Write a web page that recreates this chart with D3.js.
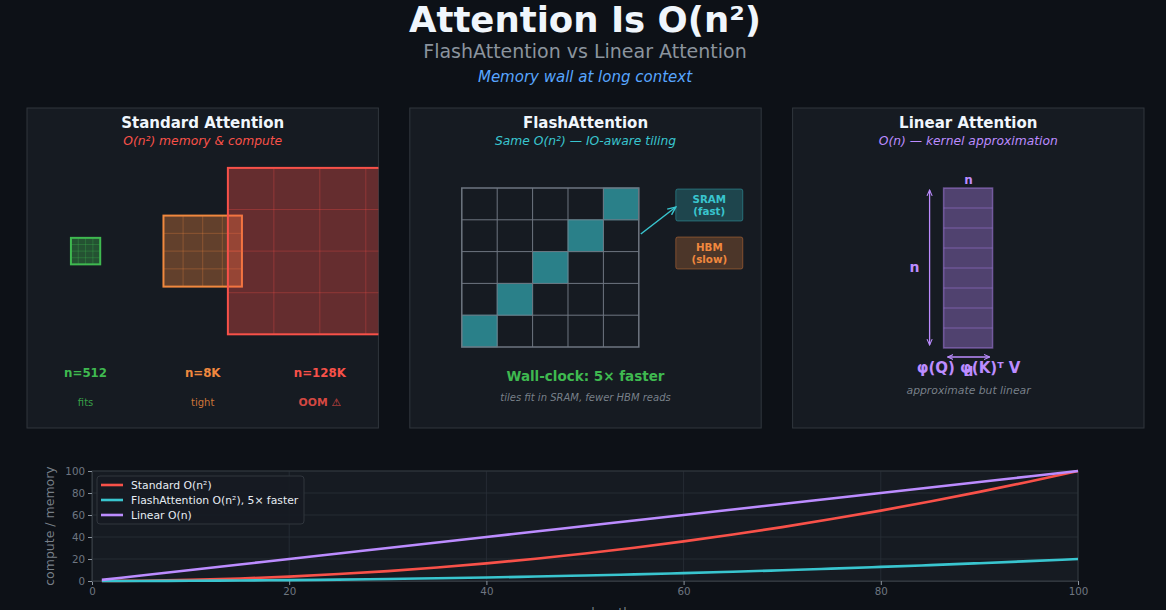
<!DOCTYPE html>
<html>
<head>
<meta charset="utf-8">
<script src="https://cdn.jsdelivr.net/npm/d3@7"></script>
<style>
  html, body { margin: 0; padding: 0; background: #0d1117; }
  svg text { font-family: "DejaVu Sans", sans-serif; }
</style>
</head>
<body>
<div id="chart"></div>
<script>
// ---- data ----
var panelTitles = ["Standard Attention", "FlashAttention", "Linear Attention"];
var panelSubtitles = ["O(n\u00b2) memory & compute", "Same O(n\u00b2) \u2014 IO-aware tiling", "O(n) \u2014 kernel approximation"];

var seqLabels = ["n=512", "n=8K", "n=128K"];
var seqNotes = ["fits", "tight", "OOM \u26a0"];
var seqSizes = [0.25, 0.67, 1.57];     // matrix side, panel units
var seqCells = [4, 4, 4];

var tileCount = 5;
var tileDiag = [0, 1, 2, 3, 4];
var memBoxes = [["SRAM", "(fast)"], ["HBM", "(slow)"]];

var linearRows = 8;

var seqLen = [1, 5, 10, 15, 20, 25, 30, 35, 40, 45, 50, 55, 60, 65, 70, 75, 80, 85, 90, 95, 100];
var standardCost = [0.01, 0.25, 1, 2.3, 4, 6.3, 9, 12.3, 16, 20.3, 25, 30.3, 36, 42.3, 49, 56.3, 64, 72.3, 81, 90.3, 100];
var flashCost = [0, 0.05, 0.2, 0.45, 0.8, 1.25, 1.8, 2.45, 3.2, 4.05, 5, 6.05, 7.2, 8.45, 9.8, 11.25, 12.8, 14.45, 16.2, 18.05, 20];
var linearCost = [1, 5, 10, 15, 20, 25, 30, 35, 40, 45, 50, 55, 60, 65, 70, 75, 80, 85, 90, 95, 100];
var seriesNames = ["Standard O(n\u00b2)", "FlashAttention O(n\u00b2), 5\u00d7 faster", "Linear O(n)"];
var xTicks = [0, 20, 40, 60, 80, 100];
var yTicks = [0, 20, 40, 60, 80, 100];

// ---- colours ----
var bg = "#0d1117", panelBg = "#161b22", border = "#30363d", muted = "#8b949e";
var green = "#3fb950", orange = "#f0883e", red = "#f85149", teal = "#39c5cf", purple = "#bc8cff", blue = "#58a6ff";
var seqColors = [green, orange, red];
var seriesColors = [red, teal, purple];

var width = 1166, height = 610;
var svg = d3.select("#chart").append("svg")
    .attr("width", width)
    .attr("height", height)
    .style("background", bg);

var defs = svg.append("defs");

// title block
svg.append("text").attr("x", 585).attr("y", 32).attr("text-anchor", "middle")
    .attr("fill", "#f0f6fc").style("font-size", "35.5px").style("font-weight", "bold")
    .text("Attention Is O(n\u00b2)");
svg.append("text").attr("x", 585).attr("y", 58).attr("text-anchor", "middle")
    .attr("fill", muted).style("font-size", "19px")
    .text("FlashAttention vs Linear Attention");
svg.append("text").attr("x", 585).attr("y", 82).attr("text-anchor", "middle")
    .attr("fill", blue).style("font-size", "15px").style("font-style", "italic")
    .text("Memory wall at long context");

// panels
var panelX = d3.scaleBand().domain([0, 1, 2]).range([27, 1144]).paddingInner(0.082);
var panelTop = 108, panelH = 320;
var subColors = [red, teal, purple];

var panels = svg.selectAll("g.panel").data(panelTitles).enter().append("g")
    .attr("class", "panel")
    .attr("transform", function(d, i) { return "translate(" + panelX(i) + "," + panelTop + ")"; });

panels.append("rect")
    .attr("width", panelX.bandwidth()).attr("height", panelH)
    .attr("fill", panelBg).attr("stroke", border).attr("stroke-width", 1);
panels.append("text")
    .attr("x", panelX.bandwidth() / 2).attr("y", 20).attr("text-anchor", "middle")
    .attr("fill", "#f0f6fc").style("font-size", "15px").style("font-weight", "bold")
    .text(function(d) { return d; });
panels.append("text")
    .attr("x", panelX.bandwidth() / 2).attr("y", 37).attr("text-anchor", "middle")
    .attr("fill", function(d, i) { return subColors[i]; })
    .style("font-size", "12.3px").style("font-style", "italic")
    .text(function(d, i) { return panelSubtitles[i]; });

// ---- panel 1: attention matrices ----
var p1 = d3.select(panels.nodes()[0]);
defs.append("clipPath").attr("id", "clip1").append("rect")
    .attr("width", panelX.bandwidth()).attr("height", panelH);
var p1x = d3.scaleLinear().domain([0, 3]).range([0, panelX.bandwidth()]);
var p1y = d3.scaleLinear().domain([0, 3]).range([0, 318]);   // y units shorter than x units
var mats = p1.append("g").attr("clip-path", "url(#clip1)");
var cy = 1.35;

seqSizes.forEach(function(s, i) {
    var cx = i + 0.5;
    var x0 = p1x(cx - s / 2), x1 = p1x(cx + s / 2);
    var y0 = p1y(cy - s / 2), y1 = p1y(cy + s / 2);
    var g = mats.append("g");
    g.append("rect").attr("x", x0).attr("y", y0).attr("width", x1 - x0).attr("height", y1 - y0)
        .attr("fill", seqColors[i]).attr("fill-opacity", 0.35)
        .attr("stroke", seqColors[i]).attr("stroke-width", 2);
    var n = seqCells[i];
    d3.range(1, n).forEach(function(k) {
        g.append("line").attr("x1", x0 + (x1 - x0) * k / n).attr("x2", x0 + (x1 - x0) * k / n)
            .attr("y1", y0).attr("y2", y1).attr("stroke", seqColors[i]).attr("stroke-opacity", 0.3);
        g.append("line").attr("y1", y0 + (y1 - y0) * k / n).attr("y2", y0 + (y1 - y0) * k / n)
            .attr("x1", x0).attr("x2", x1).attr("stroke", seqColors[i]).attr("stroke-opacity", 0.3);
    });
});
p1.selectAll("text.seq").data(seqLabels).enter().append("text")
    .attr("x", function(d, i) { return p1x(i + 0.5); }).attr("y", 269)
    .attr("text-anchor", "middle").attr("fill", function(d, i) { return seqColors[i]; })
    .style("font-size", "11.8px").style("font-weight", "bold")
    .text(function(d) { return d; });
p1.selectAll("text.note").data(seqNotes).enter().append("text")
    .attr("x", function(d, i) { return p1x(i + 0.5); }).attr("y", 298)
    .attr("text-anchor", "middle").attr("fill", function(d, i) { return seqColors[i]; })
    .attr("fill-opacity", 0.85)
    .style("font-size", function(d, i) { return i == 2 ? "10.8px" : "10px"; })
    .style("font-weight", function(d, i) { return i == 2 ? "bold" : "normal"; })
    .text(function(d) { return d; });

// ---- panel 2: tiling ----
var p2 = d3.select(panels.nodes()[1]);
var tx = d3.scaleLinear().domain([0, tileCount]).range([52, 229]);
var ty = d3.scaleLinear().domain([0, tileCount]).range([239, 80]);
p2.selectAll("rect.tile").data(tileDiag).enter().append("rect")
    .attr("x", function(d) { return tx(d); }).attr("y", function(d) { return ty(d + 1); })
    .attr("width", tx(1) - tx(0)).attr("height", ty(0) - ty(1))
    .attr("fill", teal).attr("fill-opacity", 0.6).attr("stroke", teal).attr("stroke-opacity", 0.5);
d3.range(1, tileCount).forEach(function(k) {
    p2.append("line").attr("x1", tx(k)).attr("x2", tx(k)).attr("y1", ty(0)).attr("y2", ty(tileCount))
        .attr("stroke", "#6e7681").attr("stroke-width", 1);
    p2.append("line").attr("y1", ty(k)).attr("y2", ty(k)).attr("x1", tx(0)).attr("x2", tx(tileCount))
        .attr("stroke", "#6e7681").attr("stroke-width", 1);
});
p2.append("rect").attr("x", tx(0)).attr("y", ty(tileCount))
    .attr("width", tx(tileCount) - tx(0)).attr("height", ty(0) - ty(tileCount))
    .attr("fill", "none").attr("stroke", "#6e7681").attr("stroke-width", 1.5);

var memColors = [teal, orange];
memBoxes.forEach(function(b, i) {
    var y0 = 81 + i * 48;
    p2.append("rect").attr("x", 266).attr("y", y0).attr("width", 67).attr("height", 32).attr("rx", 2)
        .attr("fill", memColors[i]).attr("fill-opacity", 0.25)
        .attr("stroke", memColors[i]).attr("stroke-opacity", 0.4);
    p2.append("text").attr("x", 299.5).attr("y", y0 + 14).attr("text-anchor", "middle")
        .attr("fill", memColors[i]).style("font-size", "10.3px").style("font-weight", "bold").text(b[0]);
    p2.append("text").attr("x", 299.5).attr("y", y0 + 25.5).attr("text-anchor", "middle")
        .attr("fill", memColors[i]).style("font-size", "10.3px").style("font-weight", "bold").text(b[1]);
});
defs.append("marker").attr("id", "arrTeal").attr("viewBox", "0 0 10 10").attr("refX", 9).attr("refY", 5)
    .attr("markerWidth", 6).attr("markerHeight", 6).attr("orient", "auto")
    .append("path").attr("d", "M0,1 L9,5 L0,9").attr("fill", "none").attr("stroke", teal).attr("stroke-width", 1.6);
p2.append("line").attr("x1", 231).attr("y1", 126).attr("x2", 266).attr("y2", 99)
    .attr("stroke", teal).attr("stroke-width", 1.5).attr("marker-end", "url(#arrTeal)");

p2.append("text").attr("x", panelX.bandwidth() / 2).attr("y", 273).attr("text-anchor", "middle")
    .attr("fill", green).style("font-size", "13.5px").style("font-weight", "bold")
    .text("Wall-clock: 5\u00d7 faster");
p2.append("text").attr("x", panelX.bandwidth() / 2).attr("y", 293).attr("text-anchor", "middle")
    .attr("fill", muted).attr("fill-opacity", 0.85).style("font-size", "10px").style("font-style", "italic")
    .text("tiles fit in SRAM, fewer HBM reads");

// ---- panel 3: linear attention ----
var p3 = d3.select(panels.nodes()[2]);
var ry = d3.scaleLinear().domain([0, linearRows]).range([80, 240]);
p3.append("rect").attr("x", 151).attr("y", ry(0)).attr("width", 49).attr("height", ry(linearRows) - ry(0))
    .attr("fill", purple).attr("fill-opacity", 0.35).attr("stroke", purple).attr("stroke-opacity", 0.45).attr("stroke-width", 1.5);
d3.range(1, linearRows).forEach(function(k) {
    p3.append("line").attr("x1", 151).attr("x2", 200).attr("y1", ry(k)).attr("y2", ry(k))
        .attr("stroke", purple).attr("stroke-opacity", 0.4);
});
defs.append("marker").attr("id", "arrPur").attr("viewBox", "0 0 10 10").attr("refX", 9).attr("refY", 5)
    .attr("markerWidth", 5).attr("markerHeight", 5).attr("orient", "auto-start-reverse")
    .append("path").attr("d", "M0,1 L9,5 L0,9").attr("fill", "none").attr("stroke", purple).attr("stroke-width", 1.6);
p3.append("line").attr("x1", 137).attr("x2", 137).attr("y1", 82).attr("y2", 237)
    .attr("stroke", purple).attr("stroke-width", 1.3)
    .attr("marker-start", "url(#arrPur)").attr("marker-end", "url(#arrPur)");
p3.append("line").attr("x1", 155).attr("x2", 197).attr("y1", 249).attr("y2", 249)
    .attr("stroke", purple).attr("stroke-width", 1.3)
    .attr("marker-start", "url(#arrPur)").attr("marker-end", "url(#arrPur)");
p3.append("text").attr("x", 122).attr("y", 164).attr("text-anchor", "middle")
    .attr("fill", purple).style("font-size", "14px").style("font-weight", "bold").text("n");
p3.append("text").attr("x", 176).attr("y", 76).attr("text-anchor", "middle")
    .attr("fill", purple).style("font-size", "12px").style("font-weight", "bold").text("n");
p3.append("text").attr("x", 176).attr("y", 268).attr("text-anchor", "middle")
    .attr("fill", purple).style("font-size", "13px").style("font-weight", "bold").text("d");
p3.append("text").attr("x", 176).attr("y", 265).attr("text-anchor", "middle")
    .attr("fill", purple).style("font-size", "15px").style("font-weight", "bold").text("\u03c6(Q) \u03c6(K)\u1d40 V");
p3.append("text").attr("x", 176).attr("y", 286).attr("text-anchor", "middle")
    .attr("fill", muted).attr("fill-opacity", 0.85).style("font-size", "10.8px").style("font-style", "italic")
    .text("approximate but linear");

// ---- bottom line chart ----
var margin = { top: 471, left: 92, right: 88, bottom: 29 };
var plotW = width - margin.left - margin.right, plotH = height - margin.top - margin.bottom;
var xScale = d3.scaleLinear().domain([0, 100]).range([0, plotW]);
var yScale = d3.scaleLinear().domain([0, 100]).range([plotH, 0]);

var chart = svg.append("g").attr("transform", "translate(" + margin.left + "," + margin.top + ")");
chart.append("rect").attr("width", plotW).attr("height", plotH).attr("fill", panelBg);

chart.selectAll("line.gx").data(xTicks).enter().append("line")
    .attr("x1", xScale).attr("x2", xScale).attr("y1", 0).attr("y2", plotH)
    .attr("stroke", "#2a3038").attr("stroke-width", 0.8);
chart.selectAll("line.gy").data(yTicks).enter().append("line")
    .attr("y1", yScale).attr("y2", yScale).attr("x1", 0).attr("x2", plotW)
    .attr("stroke", "#2a3038").attr("stroke-width", 0.8);
chart.append("rect").attr("width", plotW).attr("height", plotH)
    .attr("fill", "none").attr("stroke", border).attr("stroke-width", 1);

var xAxis = chart.append("g").attr("transform", "translate(0," + plotH + ")")
    .call(d3.axisBottom(xScale).tickValues(xTicks).tickSize(4).tickPadding(3));
var yAxis = chart.append("g")
    .call(d3.axisLeft(yScale).tickValues(yTicks).tickSize(4).tickPadding(3));
[xAxis, yAxis].forEach(function(a) {
    a.select(".domain").attr("stroke", border);
    a.selectAll(".tick line").attr("stroke", muted);
    a.selectAll(".tick text").attr("fill", "#6e7681").style("font-size", "10.3px")
        .style("font-family", "DejaVu Sans, sans-serif");
});

chart.append("text").attr("transform", "rotate(-90)")
    .attr("x", -plotH / 2).attr("y", -38).attr("text-anchor", "middle")
    .attr("fill", muted).attr("fill-opacity", 0.85).style("font-size", "12.5px").text("compute / memory");
chart.append("text").attr("x", plotW / 2).attr("y", plotH + 36).attr("text-anchor", "middle")
    .attr("fill", muted).attr("fill-opacity", 0.85).style("font-size", "12.5px").text("sequence length n");

var seriesData = [standardCost, flashCost, linearCost];
var line = d3.line()
    .x(function(d, i) { return xScale(seqLen[i]); })
    .y(function(d) { return yScale(d); })
    .curve(d3.curveMonotoneX);
chart.selectAll("path.series").data(seriesData).enter().append("path")
    .attr("fill", "none")
    .attr("stroke", function(d, i) { return seriesColors[i]; })
    .attr("stroke-width", 2.6)
    .attr("d", line);

// legend
var legend = chart.append("g").attr("transform", "translate(5,5)");
legend.append("rect").attr("width", 207).attr("height", 48).attr("rx", 3)
    .attr("fill", panelBg).attr("fill-opacity", 0.9).attr("stroke", border);
seriesNames.forEach(function(name, i) {
    var y = 9 + i * 15;
    legend.append("line").attr("x1", 4).attr("x2", 26).attr("y1", y).attr("y2", y)
        .attr("stroke", seriesColors[i]).attr("stroke-width", 2.6);
    legend.append("text").attr("x", 34).attr("y", y + 4)
        .attr("fill", "#e6edf3").style("font-size", "10.8px").text(name);
});
</script>
</body>
</html>
